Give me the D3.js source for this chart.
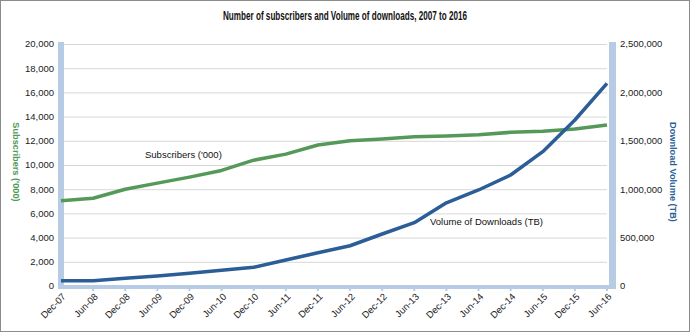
<!DOCTYPE html>
<html>
<head>
<meta charset="utf-8">
<script src="https://cdn.jsdelivr.net/npm/d3@7"></script>
<style>
  body { margin: 0; background: #fff; }
  text { font-family: "Liberation Sans", Arial, sans-serif; }
</style>
</head>
<body>
<svg id="chart" width="690" height="333"></svg>
<script>
// periods on the x axis
var periods = ["Dec-07", "Jun-08", "Dec-08", "Jun-09", "Dec-09", "Jun-10", "Dec-10", "Jun-11",
  "Dec-11", "Jun-12", "Dec-12", "Jun-13", "Dec-13", "Jun-14", "Dec-14", "Jun-15", "Dec-15", "Jun-16"];

// subscribers ('000), left axis
var subscribers = [7050, 7250, 8000, 8500, 9000, 9550, 10400, 10900, 11650, 12000, 12150,
  12340, 12400, 12500, 12700, 12780, 12970, 13300];

// download volume (TB), right axis
var downloads = [55000, 55000, 80000, 103000, 131000, 162000, 193000, 269000, 344000, 416000,
  537000, 654000, 860000, 992000, 1147000, 1388000, 1715000, 2094000];

var leftTicks = [0, 2000, 4000, 6000, 8000, 10000, 12000, 14000, 16000, 18000, 20000];
var rightTicks = [0, 500000, 1000000, 1500000, 2000000, 2500000];

var svg = d3.select("#chart");
var fmt = d3.format(",");

var plotTop = 44, plotBottom = 286, plotLeft = 61, plotRight = 607;

var x = d3.scalePoint().domain(periods).range([plotLeft, plotRight]);
var yL = d3.scaleLinear().domain([0, 20000]).range([plotBottom, plotTop]);
var yR = d3.scaleLinear().domain([0, 2500000]).range([plotBottom, plotTop]);

// outer frame
svg.append("rect")
  .attr("x", 0.5).attr("y", 0.5).attr("width", 689).attr("height", 331)
  .attr("fill", "#fff").attr("stroke", "#8c8c8c");

// title
svg.append("text")
  .attr("x", 345).attr("y", 20)
  .attr("text-anchor", "middle")
  .attr("font-size", 12).attr("font-weight", "bold")
  .attr("textLength", 244).attr("lengthAdjust", "spacingAndGlyphs")
  .attr("fill", "#111")
  .text("Number of subscribers and Volume of downloads, 2007  to 2016");

// gridlines
svg.append("g").selectAll("line")
  .data(leftTicks.filter(function (d) { return d > 0; }))
  .enter().append("line")
  .attr("x1", plotLeft + 3).attr("x2", plotRight)
  .attr("y1", function (d) { return yL(d) + 0.5; })
  .attr("y2", function (d) { return yL(d) + 0.5; })
  .attr("stroke", "#d8d8d8").attr("stroke-width", 1);

// 3D-ish walls and floor
var wall = "#b8cbe4";
svg.append("rect").attr("x", 58).attr("y", plotTop - 2).attr("width", 6).attr("height", plotBottom - plotTop + 5).attr("fill", wall);
svg.append("rect").attr("x", 609).attr("y", plotTop - 2).attr("width", 7).attr("height", plotBottom - plotTop + 5).attr("fill", wall);
svg.append("rect").attr("x", 58).attr("y", plotBottom - 1).attr("width", 558).attr("height", 4).attr("fill", wall);

// x ticks
svg.append("g").selectAll("line")
  .data(periods.slice(1))
  .enter().append("line")
  .attr("x1", function (d) { return x(d); }).attr("x2", function (d) { return x(d); })
  .attr("y1", plotBottom + 2).attr("y2", plotBottom + 5)
  .attr("stroke", wall).attr("stroke-width", 2);

// x labels
svg.append("g").selectAll("text")
  .data(periods)
  .enter().append("text")
  .attr("transform", function (d) { return "translate(" + (x(d) + 3) + "," + (plotBottom + 9) + ") rotate(-45)"; })
  .attr("text-anchor", "end")
  .attr("dy", "0.35em")
  .attr("font-size", 9.5).attr("fill", "#222")
  .text(function (d) { return d; });

// left axis labels
svg.append("g").selectAll("text")
  .data(leftTicks)
  .enter().append("text")
  .attr("x", 54).attr("y", function (d) { return yL(d); })
  .attr("dy", "0.35em").attr("text-anchor", "end")
  .attr("font-size", 9.5).attr("fill", "#222")
  .text(function (d) { return fmt(d); });

// right axis labels
svg.append("g").selectAll("text")
  .data(rightTicks)
  .enter().append("text")
  .attr("x", 620).attr("y", function (d) { return yR(d); })
  .attr("dy", "0.35em").attr("text-anchor", "start")
  .attr("font-size", 9.5).attr("fill", "#222")
  .text(function (d) { return fmt(d); });

// axis titles
svg.append("text")
  .attr("transform", "translate(13,162) rotate(90)")
  .attr("text-anchor", "middle")
  .attr("font-size", 9.2).attr("font-weight", "bold").attr("fill", "#4f9a58")
  .text("Subscribers ('000)");

svg.append("text")
  .attr("transform", "translate(670,172) rotate(90)")
  .attr("text-anchor", "middle")
  .attr("font-size", 9.2).attr("font-weight", "bold").attr("fill", "#2d5f97")
  .text("Download Volume (TB)");

// lines
var lineL = d3.line()
  .x(function (d, i) { return x(periods[i]); })
  .y(function (d) { return yL(d); });
var lineR = d3.line()
  .x(function (d, i) { return x(periods[i]); })
  .y(function (d) { return yR(d); });

svg.append("path").datum(subscribers)
  .attr("d", lineL).attr("fill", "none")
  .attr("stroke", "#55995a").attr("stroke-width", 3.5).attr("stroke-linejoin", "round");

svg.append("path").datum(downloads)
  .attr("d", lineR).attr("fill", "none")
  .attr("stroke", "#2b5d97").attr("stroke-width", 3.5).attr("stroke-linejoin", "round");

// inline labels
svg.append("text")
  .attr("x", 145).attr("y", 158)
  .attr("font-size", 9.5).attr("fill", "#111")
  .text("Subscribers ('000)");

svg.append("text")
  .attr("x", 430).attr("y", 225)
  .attr("font-size", 9.5).attr("fill", "#111")
  .text("Volume of Downloads (TB)");
</script>
</body>
</html>
